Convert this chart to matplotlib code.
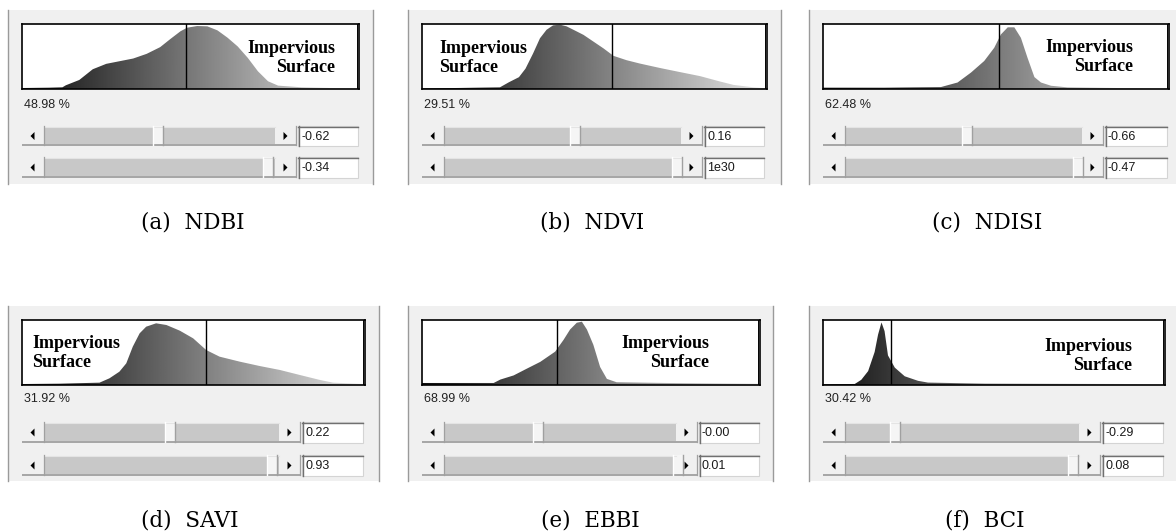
import numpy as np
import matplotlib
matplotlib.use("Agg")
import matplotlib.pyplot as plt
from matplotlib.patches import Rectangle, Polygon

# ---------------- data ----------------
captions = ["(a)  NDBI", "(b)  NDVI", "(c)  NDISI", "(d)  SAVI", "(e)  EBBI", "(f)  BCI"]
percents = ["48.98 %", "29.51 %", "62.48 %", "31.92 %", "68.99 %", "30.42 %"]
low_values = ["-0.62", "0.16", "-0.66", "0.22", "-0.00", "-0.29"]
high_values = ["-0.34", "1e30", "-0.47", "0.93", "0.01", "0.08"]
thresholds = [0.486, 0.552, 0.508, 0.536, 0.400, 0.198]   # threshold position (fraction of histogram range)

ndbi_x = [0, .08, .12, .13, .17, .21, .25, .29, .33, .37, .41, .44, .47, .49, .52, .55, .58, .61, .64, .67, .70, .73, .76, .83, .92, 1.0]
ndbi_h = [.015, .02, .026, .057, .139, .304, .387, .428, .469, .541, .644, .768, .887, .943, .969, .964, .902, .789, .655, .479, .273, .119, .052, .026, .015, .01]

ndvi_x = [0, .109, .226, .252, .281, .300, .322, .342, .361, .380, .400, .419, .439, .468, .497, .526, .555, .593, .632, .690, .748, .806, .864, .903, .961, 1.0]
ndvi_h = [.01, .016, .026, .104, .182, .313, .547, .781, .911, .979, .99, .964, .911, .833, .729, .625, .51, .443, .391, .323, .26, .198, .115, .063, .026, .01]

ndisi_x = [0, .178, .341, .389, .428, .466, .495, .514, .534, .553, .572, .591, .611, .630, .659, .707, .851, 1.0]
ndisi_h = [.02, .02, .03, .10, .254, .431, .635, .838, .949, .949, .787, .482, .183, .10, .05, .025, .015, .01]

savi_x = [0, .109, .226, .255, .284, .304, .323, .343, .362, .391, .421, .46, .499, .537, .576, .635, .693, .752, .81, .869, .907, 1.0]
savi_h = [.015, .02, .036, .103, .205, .333, .59, .795, .897, .949, .923, .836, .718, .538, .436, .359, .292, .231, .154, .077, .036, .015]

ebbi_x = [0, .212, .232, .271, .31, .35, .394, .419, .438, .458, .473, .488, .507, .527, .547, .576, .724, 1.0]
ebbi_h = [.031, .031, .084, .147, .251, .356, .513, .696, .853, .958, .974, .853, .618, .277, .094, .042, .031, .021]

bci_x = [0, .093, .112, .132, .151, .161, .171, .18, .19, .21, .239, .278, .307, .473, .863, 1.0]
bci_h = [.011, .016, .08, .214, .508, .775, .963, .829, .455, .267, .134, .064, .037, .021, .016, .011]

hist_x = [ndbi_x, ndvi_x, ndisi_x, savi_x, ebbi_x, bci_x]
hist_h = [ndbi_h, ndvi_h, ndisi_h, savi_h, ebbi_h, bci_h]

# ---------------- layout (pixels) ----------------
W, H = 1176, 531
rows = [
    dict(gy0=10, gy1=184, hy0=24, hy1=89, pct=105, s1=(126, 146), s2=(157, 178), cap=223),
    dict(gy0=306, gy1=481, hy0=320, hy1=385, pct=399, s1=(422, 443), s2=(455, 476), cap=521),
]
panels = [
    dict(row=0, gx0=8, gx1=373, hx0=22, hx1=359, bx0=298, bx1=358, side="right", tx=335, ty=58, th=(153, 263), cx=193),
    dict(row=0, gx0=408, gx1=781, hx0=422, hx1=767, bx0=704, bx1=764, side="left", tx=439, ty=58, th=(570, 672), cx=592),
    dict(row=0, gx0=809, gx1=1185, hx0=823, hx1=1169, bx0=1105, bx1=1167, side="right", tx=1133, ty=57, th=(962, 1073), cx=987),
    dict(row=1, gx0=8, gx1=379, hx0=22, hx1=365, bx0=302, bx1=363, side="left", tx=32, ty=353, th=(165, 267), cx=190),
    dict(row=1, gx0=408, gx1=773, hx0=422, hx1=760, bx0=699, bx1=759, side="right", tx=709, ty=353, th=(533, 673), cx=590),
    dict(row=1, gx0=809, gx1=1185, hx0=823, hx1=1165, bx0=1102, bx1=1163, side="right", tx=1132, ty=356, th=(890, 1068), cx=985),
]

fig = plt.figure(figsize=(W / 100, H / 100), dpi=100)
fig.patch.set_facecolor("white")
bg = fig.add_axes([0, 0, 1, 1])
bg.set_xlim(0, W)
bg.set_ylim(H, 0)
bg.axis("off")

PANEL = "#f0f0f0"
TRACK = "#c8c8c8"
SHADOW = "#a0a0a0"


def rect(x, y, w, h, **kw):
    bg.add_patch(Rectangle((x, y), w, h, **kw))


def slider(x0, x1, y0, y1, tx):
    h = y1 - y0
    yc = (y0 + y1) / 2
    rect(x0, y0, x1 - x0, h, fc=PANEL, ec="none")
    rect(x0 + 22, y0 + 1, (x1 - 21) - (x0 + 22), h - 3, fc=TRACK, ec="none")
    bg.plot([x0, x1], [y1 - 1, y1 - 1], color=SHADOW, lw=1.3, solid_capstyle="butt")
    bg.plot([x0 + 22, x1 - 21], [y0 + 1, y0 + 1], color="#e4e4e4", lw=0.8)
    for bx, bw in ((x0, 22), (x1 - 21, 21)):
        rect(bx, y0, bw, h - 1.5, fc=PANEL, ec="none")
        bg.plot([bx + bw - 0.5, bx + bw - 0.5], [y0, y1 - 1], color=SHADOW, lw=0.9)
    rect(tx, y0, 10, h - 1.5, fc="#f5f5f5", ec="none")
    bg.plot([tx + 9.5, tx + 9.5], [y0, y1 - 1], color=SHADOW, lw=1.0)
    bg.plot([tx, tx], [y0, y1 - 1.5], color="white", lw=1.0)
    bg.add_patch(Polygon([(x0 + 8.5, yc), (x0 + 12.5, yc - 4), (x0 + 12.5, yc + 4)], closed=True, fc="black", ec="none"))
    rx = x1 - 21
    bg.add_patch(Polygon([(rx + 12.5, yc), (rx + 8.5, yc - 4), (rx + 8.5, yc + 4)], closed=True, fc="black", ec="none"))


def textbox(x0, x1, y0, y1, txt):
    rect(x0, y0, x1 - x0, y1 - y0, fc="white", ec="#d4d4d4", lw=0.8)
    bg.plot([x0, x1], [y0 + 0.5, y0 + 0.5], color="#707070", lw=1.0)
    bg.plot([x0 + 0.5, x0 + 0.5], [y0, y1], color="#707070", lw=1.0)
    bg.text(x0 + 3, (y0 + y1) / 2 + 0.5, txt, fontsize=9, family="Liberation Sans",
            color="#1a1a1a", ha="left", va="center")


top = None
labels = []
for i, p in enumerate(panels):
    r = rows[p["row"]]
    # panel background and borders
    rect(p["gx0"], r["gy0"], p["gx1"] - p["gx0"], r["gy1"] - r["gy0"], fc=PANEL, ec="none")
    for xx in (p["gx0"], p["gx1"]):
        bg.plot([xx, xx], [r["gy0"], r["gy1"]], color="#9a9a9a", lw=1.0)

    # percentage label
    bg.text(p["hx0"] + 2, r["pct"], percents[i], fontsize=9, family="Liberation Sans",
            color="#222222", ha="left", va="center")

    # sliders and boxes
    sx1 = p["bx0"] - 2
    slider(p["hx0"], sx1, r["s1"][0], r["s1"][1], p["th"][0])
    slider(p["hx0"], sx1, r["s2"][0], r["s2"][1], p["th"][1])
    textbox(p["bx0"], p["bx1"], r["s1"][0], r["s1"][1], low_values[i])
    textbox(p["bx0"], p["bx1"], r["s2"][0], r["s2"][1], high_values[i])

    # caption
    bg.text(p["cx"], r["cap"], captions[i], fontsize=15.5, family="DejaVu Serif",
            color="black", ha="center", va="center")

    # histogram axes
    ax = fig.add_axes([p["hx0"] / W, 1 - r["hy1"] / H, (p["hx1"] - p["hx0"]) / W, (r["hy1"] - r["hy0"]) / H])
    ax.set_facecolor("white")
    ax.set_xlim(0, 1)
    ax.set_ylim(0, 1)
    ax.set_xticks([])
    ax.set_yticks([])
    for sp in ax.spines.values():
        sp.set_color("black")
        sp.set_linewidth(1.2)
    x = np.asarray(hist_x[i], dtype=float)
    h = np.asarray(hist_h[i], dtype=float)
    verts = np.column_stack([np.r_[x, x[::-1]], np.r_[h, np.zeros_like(h)]])
    poly = Polygon(verts, closed=True, fc="none", ec="none", transform=ax.transData)
    ax.add_patch(poly)
    grad = 0.05 + 0.85 * np.linspace(0, 1, 512).reshape(1, -1)
    im = ax.imshow(grad, extent=(0, 1, 0, 1), aspect="auto", cmap="gray", vmin=0, vmax=1,
                   origin="lower", interpolation="bilinear")
    im.set_clip_path(poly)
    ax.axvline(thresholds[i], color="black", lw=1.0)
    ax.axvline(0.994, color="black", lw=0.7)
    labels.append((p["tx"], p["ty"], p["side"]))

# overlay for the in-histogram labels
top = fig.add_axes([0, 0, 1, 1])
top.set_xlim(0, W)
top.set_ylim(H, 0)
top.axis("off")
top.patch.set_alpha(0)
for tx, ty, ha in labels:
    top.text(tx, ty, "Impervious\nSurface", fontsize=13, family="Liberation Serif",
             fontweight="bold", ha=ha, va="center", multialignment=ha,
             linespacing=1.15, color="black")

fig.savefig("out.png", dpi=100, facecolor="white")
